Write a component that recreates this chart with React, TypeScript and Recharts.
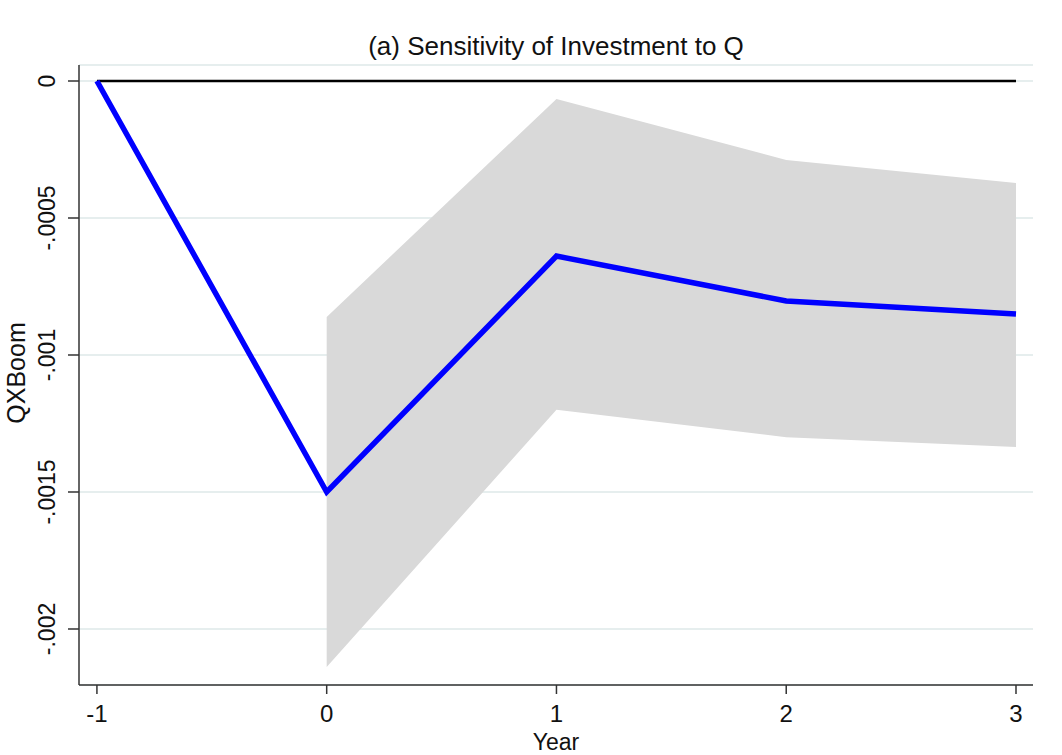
import React from "react";
import { ComposedChart, Line, Area, XAxis, YAxis, CartesianGrid } from "recharts";

const years = [-1, 0, 1, 2, 3];
const estimate = [0, -0.0015, -0.000639, -0.000803, -0.00085];
const upper = [null, -0.000861, -0.0000657, -0.000288, -0.000372];
const lower = [null, -0.002139, -0.0012, -0.0013, -0.001336];
const zeroLine = [0, 0, 0, 0, 0];
const yTicks = [0, -0.0005, -0.001, -0.0015, -0.002];
const xTicks = [-1, 0, 1, 2, 3];

const data = years.map((y, i) => ({
  year: y,
  est: estimate[i],
  zero: zeroLine[i],
  band: upper[i] === null ? null : [lower[i], upper[i]],
}));

const fmtY = (v: number) => {
  if (v === 0) return "0";
  return v.toString().replace("0.", ".");
};

const font = "'Liberation Sans', Arial, sans-serif";

const YTick = (props: any) => {
  const { y, payload } = props;
  return (
    <text
      x={0}
      y={0}
      transform={`translate(55,${y}) rotate(-90)`}
      textAnchor="middle"
      fontSize={23}
      fontFamily={font}
      fill="#111"
    >
      {fmtY(payload.value)}
    </text>
  );
};

const XTick = (props: any) => {
  const { x, payload } = props;
  return (
    <text x={x} y={722} textAnchor="middle" fontSize={24} fontFamily={font} fill="#111">
      {payload.value}
    </text>
  );
};

export default function App() {
  return (
    <div style={{ position: "absolute", left: 0, top: 0, width: 1062, height: 755, background: "#fff" }}>
      <ComposedChart
        width={1062}
        height={755}
        data={data}
        margin={{ top: 65, right: 29, bottom: 0, left: 0 }}
      >
        <text x={556} y={55} textAnchor="middle" fontSize={26} fontFamily={font} fill="#111">
          (a) Sensitivity of Investment to Q
        </text>
        <text x={556} y={750} textAnchor="middle" fontSize={23} fontFamily={font} fill="#111">
          Year
        </text>
        <text
          x={0}
          y={0}
          transform="translate(25,373) rotate(-90)"
          textAnchor="middle"
          fontSize={25}
          fontFamily={font}
          fill="#111"
        >
          QXBoom
        </text>
        <CartesianGrid vertical={false} horizontal stroke="#e6eeee" strokeWidth={2} />
        <XAxis
          dataKey="year"
          type="number"
          domain={[-1.078, 3.074]}
          ticks={xTicks}
          allowDataOverflow
          height={70}
          tickSize={9}
          stroke="#333"
          strokeWidth={1.5}
          tick={<XTick />}
        />
        <YAxis
          type="number"
          domain={[-0.0022044, 0.0000584]}
          ticks={yTicks}
          allowDataOverflow
          width={79}
          tickSize={11}
          stroke="#333"
          strokeWidth={1.5}
          tick={<YTick />}
        />
        <Area
          dataKey="band"
          type="linear"
          fill="#d9d9d9"
          fillOpacity={1}
          stroke="none"
          isAnimationActive={false}
          connectNulls={false}
        />
        <Line dataKey="zero" type="linear" stroke="#000" strokeWidth={2.5} dot={false} isAnimationActive={false} />
        <Line dataKey="est" type="linear" stroke="#0000ff" strokeWidth={5.5} dot={false} isAnimationActive={false} />
      </ComposedChart>
    </div>
  );
}
